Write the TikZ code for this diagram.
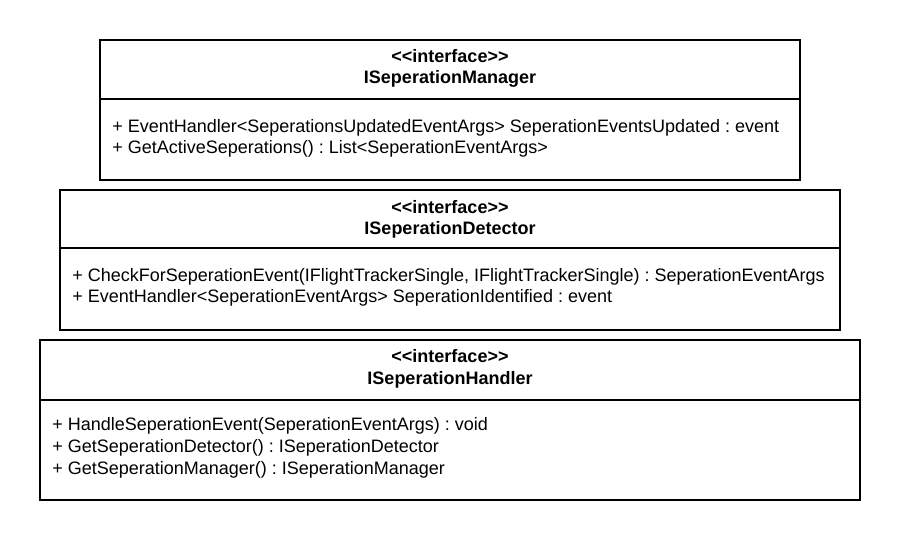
\documentclass[tikz,border=0pt]{standalone}
\usepackage{fontspec}
\setmainfont{Liberation Sans}[Ligatures=TeXOff]
\frenchspacing
\begin{document}
\begin{tikzpicture}[x=0.75pt,y=-0.75pt,
  umlbox/.style={draw=black,line width=1.5pt,fill=white},
  title/.style={font=\bfseries\fontsize{13.5}{15}\selectfont,inner sep=0pt,anchor=base},
  member/.style={font=\fontsize{13.5}{15}\selectfont,inner sep=0pt,anchor=base west}]
\useasboundingbox[fill=white] (0,0) rectangle (900,540);
% Box 1
\draw[umlbox] (100,40) rectangle (800,180);
\draw[line width=1.5pt] (100,99) -- (800,99);
\node[title] (t1a) at (450,62) {<<interface>>};
\node[title] (t1b) at (450,83) {ISeperationManager};
\node[member] (m1a) at (112,132) {+ EventHandler<SeperationsUpdatedEventArgs> SeperationEventsUpdated : event};
\node[member] (m1b) at (112,153) {+ GetActiveSeperations() : List<SeperationEventArgs>};
% Box 2
\draw[umlbox] (60,190) rectangle (840,330);
\draw[line width=1.5pt] (60,248) -- (840,248);
\node[title] (t2a) at (450,213) {<<interface>>};
\node[title] (t2b) at (450,234) {ISeperationDetector};
\node[member] (m2a) at (72,281) {+ CheckForSeperationEvent(IFlightTrackerSingle, IFlightTrackerSingle) : SeperationEventArgs};
\node[member] (m2b) at (72,302) {+ EventHandler<SeperationEventArgs> SeperationIdentified : event};
% Box 3
\draw[umlbox] (40,340) rectangle (860,500);
\draw[line width=1.5pt] (40,400) -- (860,400);
\node[title] (t3a) at (450,362) {<<interface>>};
\node[title] (t3b) at (450,384) {ISeperationHandler};
\node[member] (m3a) at (52,430) {+ HandleSeperationEvent(SeperationEventArgs) : void};
\node[member] (m3b) at (52,452) {+ GetSeperationDetector() : ISeperationDetector};
\node[member] (m3c) at (52,474) {+ GetSeperationManager() : ISeperationManager};
\end{tikzpicture}
\end{document}
